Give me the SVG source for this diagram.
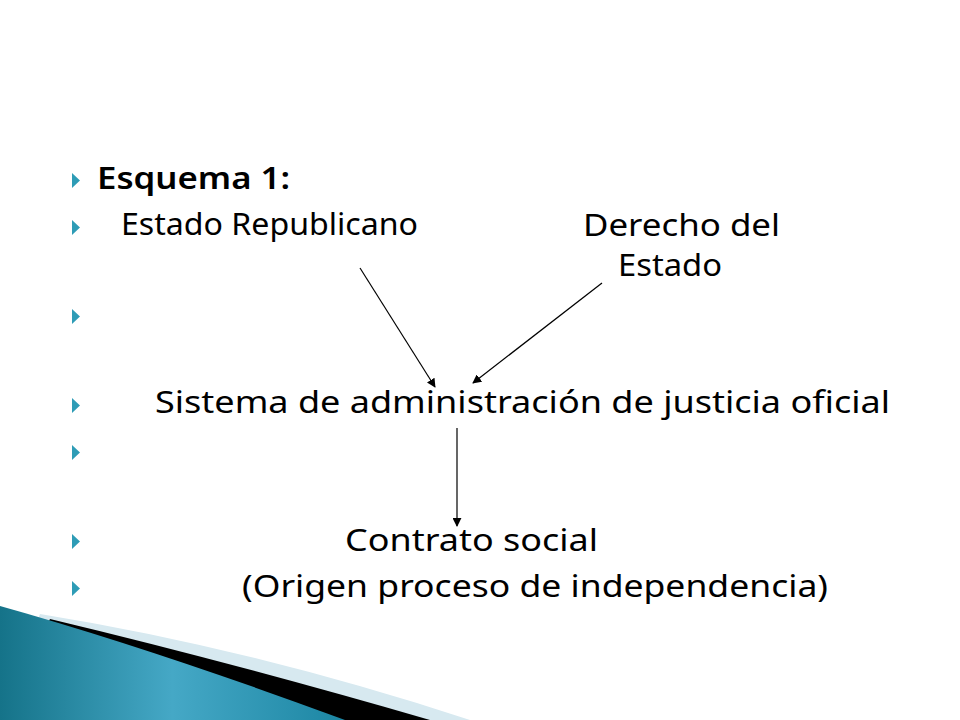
<svg xmlns="http://www.w3.org/2000/svg" width="960" height="720" viewBox="0 0 960 720">
<defs>
<style>
.t{font-family:"Noto Sans","Open Sans","Liberation Sans",sans-serif;font-size:30px;fill:#000}
.b{fill:#2e9cb6}
.c{stroke:#000;stroke-width:1.2;fill:none;marker-end:url(#ah)}
</style>
<marker id="ah" viewBox="0 0 10 10" refX="9" refY="5" markerWidth="9" markerHeight="9" markerUnits="userSpaceOnUse" orient="auto">
<path d="M0,0 L10,5 L0,10 Z" fill="#000"/>
</marker>
<linearGradient id="blue" x1="0" y1="0" x2="1" y2="0">
<stop offset="0" stop-color="#157389"/>
<stop offset="0.5" stop-color="#45a8c6"/>
<stop offset="1" stop-color="#1c86a3"/>
</linearGradient>
</defs>
<rect width="960" height="720" fill="#fff"/>
<g id="decoration">
<path d="M40,614 Q250,648 470,720 L0,720 Z" fill="#d7e9f0"/>
<path d="M50,619 Q230,662 430,720 L0,720 Z" fill="#000"/>
<path d="M0,606 Q150,648 345,720 L0,720 Z" fill="url(#blue)"/>
</g>
<g id="bullets">
<path class="b" d="M72,173 L80,180.5 L72,188 Z"/>
<path class="b" d="M72,220 L80,227.5 L72,235 Z"/>
<path class="b" d="M72,309 L80,316.5 L72,324 Z"/>
<path class="b" d="M72,398 L80,405.5 L72,413 Z"/>
<path class="b" d="M72,445 L80,452.5 L72,460 Z"/>
<path class="b" d="M72,534 L80,541.5 L72,549 Z"/>
<path class="b" d="M72,581 L80,588.5 L72,596 Z"/>
</g>
<g id="title">
<text class="t" x="97" y="189" textLength="193" lengthAdjust="spacingAndGlyphs" font-weight="600">Esquema 1:</text>
</g>
<g id="estado-republicano">
<text class="t" x="121" y="235" textLength="297" lengthAdjust="spacingAndGlyphs">Estado Republicano</text>
</g>
<g id="derecho-del-estado">
<text class="t" x="583" y="236" textLength="197" lengthAdjust="spacingAndGlyphs">Derecho del</text>
<text class="t" x="618" y="276" textLength="104" lengthAdjust="spacingAndGlyphs">Estado</text>
</g>
<g id="sistema">
<text class="t" x="155" y="413" textLength="735" lengthAdjust="spacingAndGlyphs">Sistema de administración de justicia oficial</text>
</g>
<g id="contrato-social">
<text class="t" x="345" y="551" textLength="253" lengthAdjust="spacingAndGlyphs">Contrato social</text>
<text class="t" x="242" y="597" textLength="586" lengthAdjust="spacingAndGlyphs">(Origen proceso de independencia)</text>
</g>
<g id="connectors">
<line class="c" x1="360" y1="268" x2="435" y2="387"/>
<line class="c" x1="602" y1="283" x2="473" y2="383"/>
<line class="c" x1="457" y1="428" x2="457" y2="526"/>
</g>
</svg>
